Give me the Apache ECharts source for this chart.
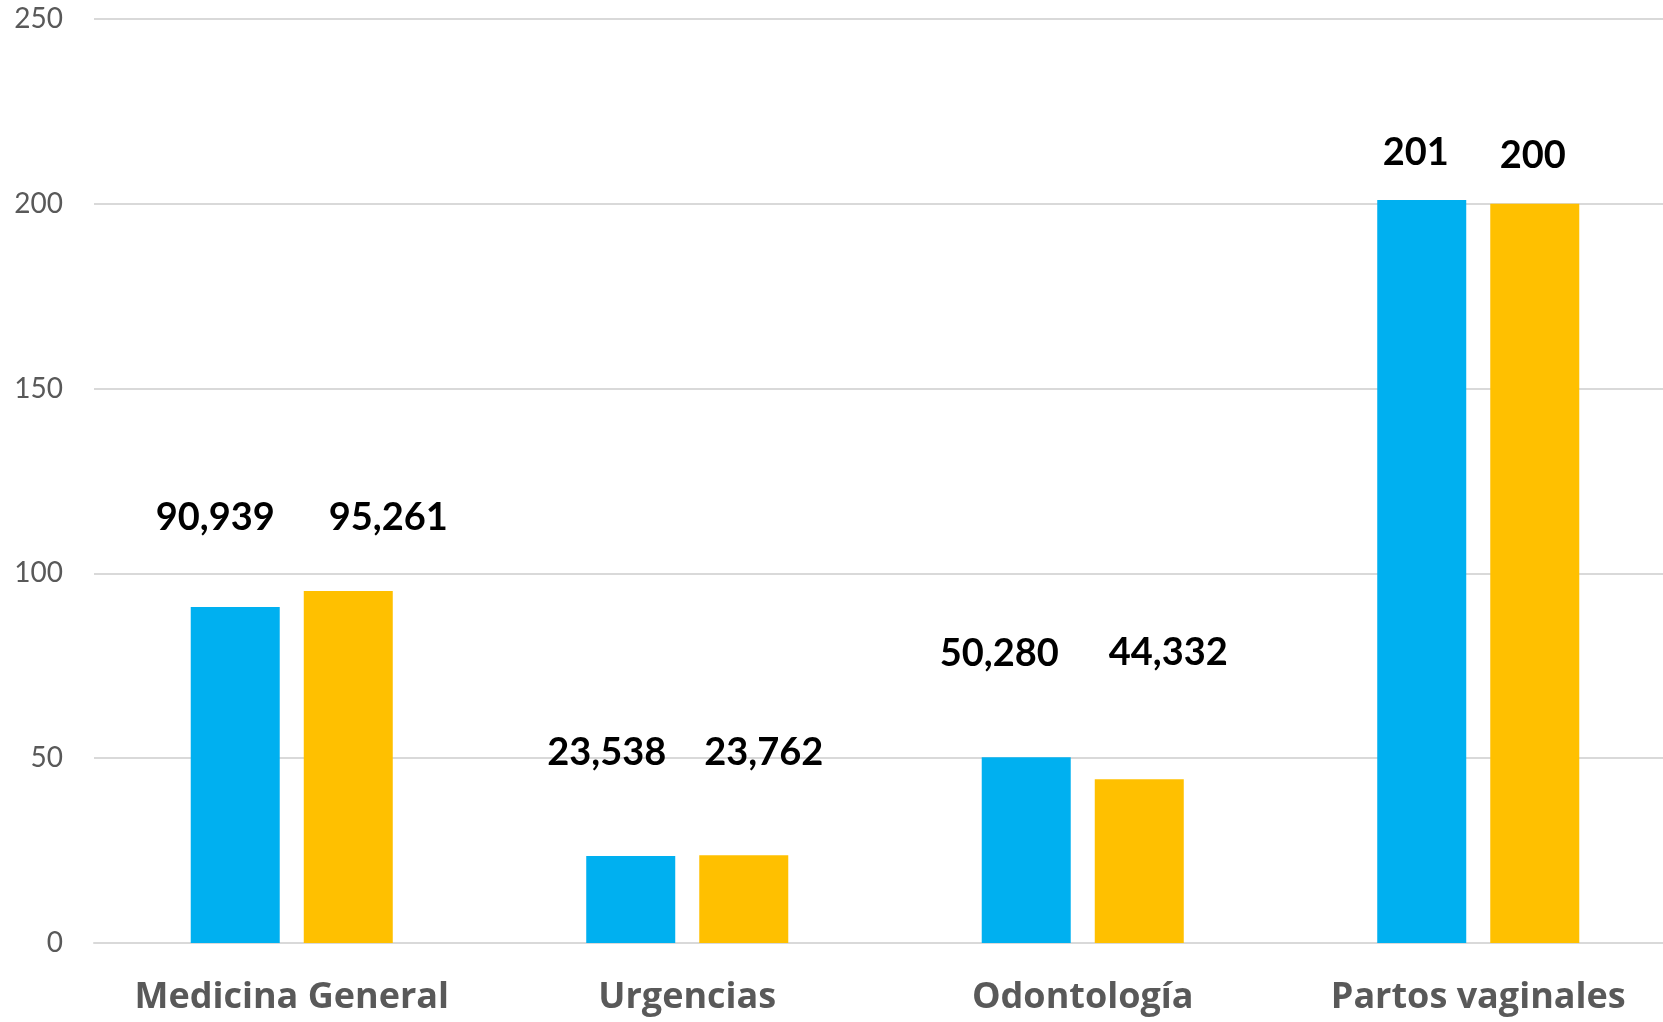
<!DOCTYPE html>
<html>
<head>
<meta charset="utf-8">
<script src="https://cdn.jsdelivr.net/npm/echarts@6/dist/echarts.min.js"></script>
<style>
  html, body { margin: 0; padding: 0; background: #fff; overflow: hidden; }
  #chart { width: 1676px; height: 1022px; }
</style>
</head>
<body>
<div id="chart"></div>
<script>
// datos del gráfico
const categories = ['Medicina General', 'Urgencias', 'Odontología', 'Partos vaginales'];
const serieA = [90.939, 23.538, 50.280, 201];
const serieB = [95.261, 23.762, 44.332, 200];
const labelsA = ['90,939', '23,538', '50,280', '201'];
const labelsB = ['95,261', '23,762', '44,332', '200'];

// desplazamiento manual de las etiquetas (como en el original)
const offsetsA = [[-20, -70], [-24, -84], [-27, -84], [-6, -28]];
const offsetsB = [[40, -54], [20, -83], [29, -107], [-2, -29]];

const FONT = 'Lato, "Open Sans", sans-serif';

function buildData(values, labels, offsets) {
  return values.map((v, i) => ({
    value: v,
    label: { formatter: labels[i], offset: offsets[i] }
  }));
}

const labelStyle = {
  show: true,
  position: 'top',
  distance: 0,
  color: '#000',
  fontFamily: FONT,
  fontWeight: 'bold',
  fontSize: 38
};

const chart = echarts.init(document.getElementById('chart'));
chart.setOption({
  animation: false,
  grid: { left: 94, right: 0, top: 19, bottom: 79, containLabel: false },
  xAxis: {
    type: 'category',
    data: categories,
    axisLine: { show: true, lineStyle: { color: '#D9D9D9', width: 2 } },
    axisTick: { show: false },
    axisLabel: {
      interval: 0,
      color: '#595959',
      fontFamily: '"Open Sans", Lato, sans-serif',
      fontWeight: 'bold',
      fontSize: 36,
      margin: 37
    }
  },
  yAxis: {
    type: 'value',
    min: 0,
    max: 250,
    interval: 50,
    axisLine: { show: false },
    axisTick: { show: false },
    axisLabel: { color: '#595959', fontFamily: FONT, fontSize: 28, margin: 31 },
    splitLine: { lineStyle: { color: '#D9D9D9', width: 2 } }
  },
  series: [
    {
      type: 'bar',
      barWidth: 89,
      barGap: '27%',
      itemStyle: { color: '#00B0F0' },
      label: labelStyle,
      data: buildData(serieA, labelsA, offsetsA)
    },
    {
      type: 'bar',
      barWidth: 89,
      itemStyle: { color: '#FFC000' },
      label: labelStyle,
      data: buildData(serieB, labelsB, offsetsB)
    }
  ]
});
</script>
</body>
</html>
